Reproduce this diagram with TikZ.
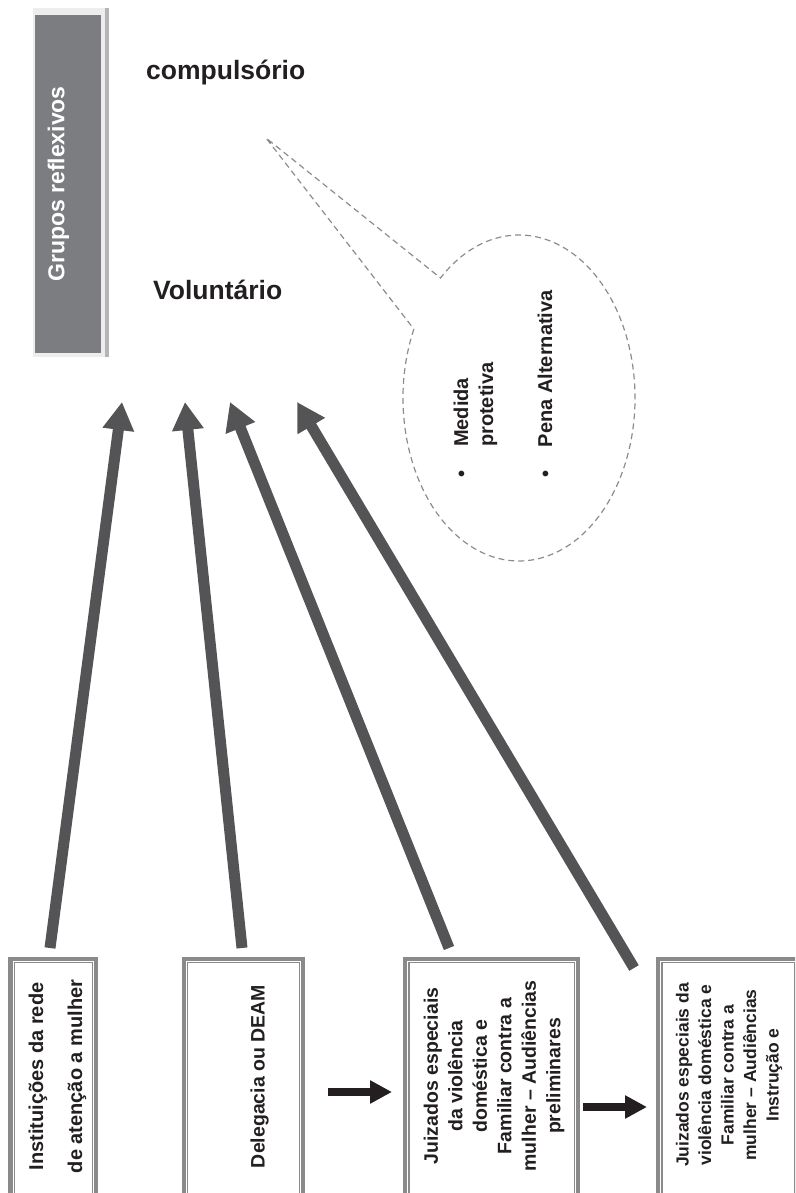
\documentclass[tikz,border=0pt]{standalone}
\usepackage{fontspec}
\setmainfont{Liberation Sans}
\usetikzlibrary{arrows.meta,calc}
\definecolor{arrowgray}{HTML}{545456}
\definecolor{framegray}{HTML}{8A8A8A}
\definecolor{dashgray}{HTML}{8C8C8C}
\definecolor{fillgray}{HTML}{7C7D81}
\definecolor{palegray}{HTML}{EDEDED}
\definecolor{stripgray}{HTML}{B5B5B5}
\definecolor{inkblack}{HTML}{231F20}
\begin{document}
\begin{tikzpicture}[x=1pt,y=1pt,
  boxframe/.style={draw=framegray, line width=4.3pt, minimum height=264pt, inner sep=0pt},
  innerframe/.style={draw=framegray, line width=1.3pt},
  vtext/.style={rotate=90, inner sep=0pt, text=inkblack, align=center},
  bigarrow/.style={draw=arrowgray, line width=11pt, -{Triangle[length=28pt,width=30pt]}},
  smallarrow/.style={draw=inkblack, line width=8.3pt, -{Triangle[length=22pt,width=22pt]}},
  callout/.style={draw=dashgray, line width=1.2pt, dash pattern=on 6pt off 4pt},
  headline/.style={inner sep=0pt, anchor=base west, text=inkblack, font=\fontsize{26.5}{32}\selectfont\bfseries}
]
\useasboundingbox (0,0) rectangle (795,1193);
\clip (0,0) rectangle (795,1193);

% Grupos reflexivos block
\fill[palegray] (33,836) rectangle (109,1185);
\fill[stripgray] (105,836) rectangle (109,1185);
\node[fill=fillgray, minimum width=66pt, minimum height=338pt, inner sep=0pt] (grupos) at (68,1009) {};
\node[rotate=90, inner sep=0pt, text=white, font=\fontsize{23}{28}\selectfont\bfseries] (gtext) at (58.5,1009) {Grupos reflexivos};

% headings
\node[headline] (comp) at (146,1113) {compulsório};
\node[headline] (vol) at (153,893) {Voluntário};

% callout ellipse
\draw[callout] ($(519,795)+(155:116 and 163)$) arc[start angle=155, end angle=492.6, x radius=116, y radius=163] -- (266,1055) -- cycle;
\node[vtext, align=left, font=\fontsize{20}{25}\selectfont\bfseries] (med) at (475.5,773) {\makebox[30.5pt][l]{\textbullet}Medida\\\hspace*{30.5pt}protetiva};
\node[vtext, font=\fontsize{20}{25}\selectfont\bfseries] (pena) at (545,809) {\makebox[30.5pt][l]{\textbullet}Pena Alternativa};

% bottom boxes
\node[boxframe, minimum width=85.5pt] (b1) at (53.25,102) {};
\node[boxframe, minimum width=119.3pt] (b2) at (243.35,102) {};
\node[boxframe, minimum width=173pt] (b3) at (491.5,102) {};
\node[boxframe, minimum width=140.7pt] (b4) at (728.6,102) {};
\foreach \b in {b1,b2,b3,b4}{
  \draw[innerframe] ([shift={(6pt,-6pt)}]\b.north west) rectangle ([shift={(-6pt,6pt)}]\b.south east);
}

\node[vtext, font=\fontsize{20}{39}\selectfont\bfseries] (t1) at (57.5,116.5) {Instituições da rede\\de atenção a mulher};
\node[vtext, font=\fontsize{19.5}{24}\selectfont\bfseries] (t2) at (259.5,116.5) {Delegacia ou DEAM};
\node[vtext, font=\fontsize{19.5}{24.5}\selectfont\bfseries] (t3) at (494,117) {Juizados especiais\\da violência\\doméstica e\\Familiar contra a\\mulher – Audiências\\preliminares};
\node[vtext, font=\fontsize{17.5}{22.5}\selectfont\bfseries] (t4) at (729,118) {Juizados especiais da\\violência doméstica e\\Familiar contra a\\mulher – Audiências\\Instrução e};

% arrow ends
\coordinate (a1s) at (50,245);  \coordinate (a1e) at (122,791);
\coordinate (a2s) at (242,245); \coordinate (a2e) at (185,791);
\coordinate (a3s) at (449,245); \coordinate (a3e) at (230,791);
\coordinate (a4s) at (634,225); \coordinate (a4e) at (297,791);
\draw[bigarrow] (a1s) -- (a1e);
\draw[bigarrow] (a2s) -- (a2e);
\draw[bigarrow] (a3s) -- (a3e);
\draw[bigarrow] (a4s) -- (a4e);

\coordinate (s1s) at (328,101); \coordinate (s1e) at (392,101);
\coordinate (s2s) at (583,86);  \coordinate (s2e) at (647,86);
\draw[smallarrow] (s1s) -- (s1e);
\draw[smallarrow] (s2s) -- (s2e);
\end{tikzpicture}
\end{document}
